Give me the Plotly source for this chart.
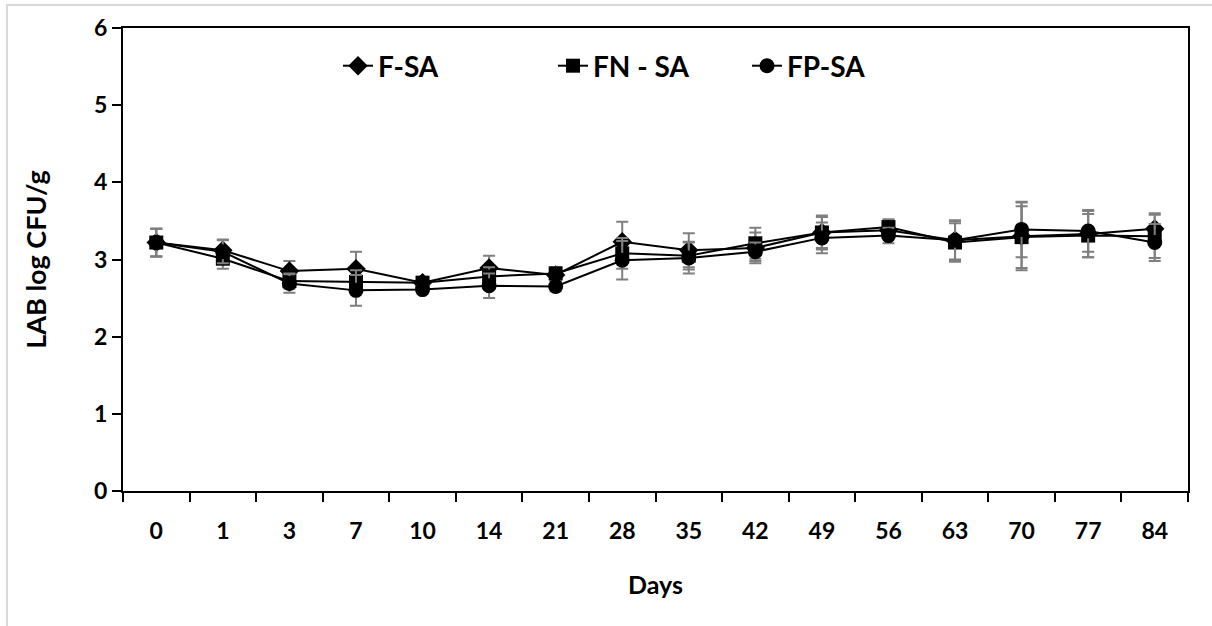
import plotly.graph_objects as go

days = ["0", "1", "3", "7", "10", "14", "21", "28", "35", "42", "49", "56", "63", "70", "77", "84"]

f_sa = [3.22, 3.12, 2.85, 2.88, 2.70, 2.89, 2.80, 3.23, 3.12, 3.15, 3.35, 3.38, 3.25, 3.30, 3.33, 3.40]
f_sa_err = [0.18, 0.14, 0.13, 0.22, 0.05, 0.16, 0.08, 0.26, 0.22, 0.20, 0.20, 0.10, 0.25, 0.44, 0.30, 0.20]

fn_sa = [3.22, 3.01, 2.72, 2.71, 2.70, 2.78, 2.82, 3.08, 3.05, 3.21, 3.35, 3.42, 3.22, 3.29, 3.31, 3.30]
fn_sa_err = [0.18, 0.13, 0.10, 0.15, 0.06, 0.12, 0.08, 0.20, 0.18, 0.20, 0.22, 0.10, 0.25, 0.40, 0.28, 0.28]

fp_sa = [3.22, 3.10, 2.69, 2.60, 2.61, 2.66, 2.65, 2.99, 3.02, 3.10, 3.28, 3.31, 3.25, 3.39, 3.37, 3.22]
fp_sa_err = [0.18, 0.15, 0.12, 0.20, 0.05, 0.16, 0.06, 0.25, 0.20, 0.12, 0.20, 0.10, 0.26, 0.36, 0.27, 0.24]

series = [
    ("F-SA", f_sa, f_sa_err, "diamond", 15, "legend"),
    ("FN - SA", fn_sa, fn_sa_err, "square", 14, "legend2"),
    ("FP-SA", fp_sa, fp_sa_err, "circle", 15, "legend3"),
]

FONT = "Lato"

fig = go.Figure()
for name, vals, err, sym, size, leg in series:
    fig.add_trace(go.Scatter(
        x=days, y=vals, name=name, mode="lines+markers",
        line=dict(color="black", width=2),
        marker=dict(symbol=sym, size=size, color="black"),
        error_y=dict(type="data", array=err, visible=True, color="#7f7f7f",
                     thickness=2, width=6),
        legend=leg, showlegend=True,
    ))

legfont = dict(family=FONT, size=28, color="black", weight="bold")
common_leg = dict(orientation="h", font=legfont, bgcolor="rgba(0,0,0,0)",
                  yanchor="middle", xanchor="left", itemwidth=30, visible=True)

fig.update_layout(
    width=1212, height=626,
    showlegend=True,
    margin=dict(l=123, r=24, t=28, b=135),
    paper_bgcolor="white", plot_bgcolor="white",
    font=dict(family=FONT, color="black"),
    legend=dict(x=(338 - 123) / 1065, y=(491 - 66) / 463, **common_leg),
    legend2=dict(x=(553 - 123) / 1065, y=(491 - 66) / 463, **common_leg),
    legend3=dict(x=(747 - 123) / 1065, y=(491 - 66) / 463, **common_leg),
    xaxis=dict(
        type="category", tickson="boundaries", range=[-0.5, 15.5],
        ticks="outside", ticklen=9, ticklabelstandoff=18,
        tickwidth=1.5, tickcolor="black", showline=True, linecolor="black",
        linewidth=2, mirror=True, showgrid=False, zeroline=False,
        tickfont=dict(family=FONT, size=23, color="black", weight="bold"),
        title=dict(text="Days", font=dict(family=FONT, size=25, color="black", weight="bold"),
                   standoff=34),
    ),
    yaxis=dict(
        range=[0, 6], dtick=1, ticks="outside", ticklen=9, tickwidth=1.5,
        tickcolor="black", showline=True, linecolor="black", linewidth=2,
        mirror=True, showgrid=False, zeroline=False,
        tickfont=dict(family=FONT, size=23, color="black", weight="bold"),
        title=dict(text="LAB log CFU/g", font=dict(family=FONT, size=27, color="black", weight="bold"),
                   standoff=40),
    ),
    shapes=[dict(type="rect", xref="paper", yref="paper",
                 x0=(7 - 123) / 1065, x1=(1230 - 123) / 1065,
                 y0=(491 - 640) / 463, y1=(491 - 5) / 463,
                 line=dict(color="#d9d9d9", width=2), layer="below")],
)

fig.write_html("out.html")
